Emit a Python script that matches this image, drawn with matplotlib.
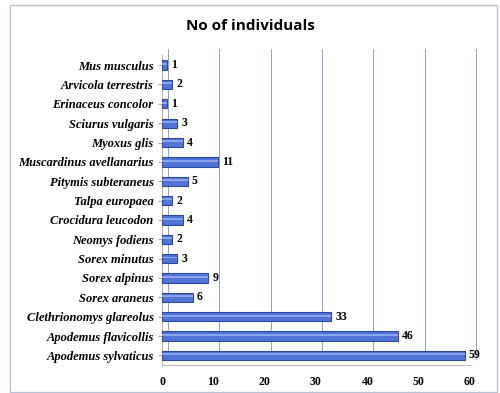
import matplotlib
matplotlib.use('Agg')
import matplotlib.pyplot as plt
import matplotlib.transforms as mtransforms
from matplotlib.patches import Rectangle

species = ['Mus musculus', 'Arvicola terrestris', 'Erinaceus concolor',
           'Sciurus vulgaris', 'Myoxus glis', 'Muscardinus avellanarius',
           'Pitymis subteraneus', 'Talpa europaea', 'Crocidura leucodon',
           'Neomys fodiens', 'Sorex minutus', 'Sorex alpinus', 'Sorex araneus',
           'Clethrionomys glareolus', 'Apodemus flavicollis', 'Apodemus sylvaticus']
counts = [1, 2, 1, 3, 4, 11, 5, 2, 4, 2, 3, 9, 6, 33, 46, 59]
xticks = [0, 10, 20, 30, 40, 50, 60]

fig = plt.figure(figsize=(5, 3.93), dpi=100)
ax = fig.add_axes([0.324, 0.071, 0.616, 0.788])

# outer chart border
fig.patches.append(Rectangle((0.02, 0.003), 0.974, 0.984, transform=fig.transFigure,
                             fill=False, edgecolor='#b8c4d4', linewidth=1.0))

pos = list(range(len(species)))[::-1]

# back-wall gridlines, shifted like the 3D chart
shift = mtransforms.ScaledTranslation(0.06, 0.06, fig.dpi_scale_trans)
for t in xticks:
    ax.plot([t, t], [-0.5, 15.5], color='#8aa4cc', linewidth=0.7,
            transform=ax.transData + shift, clip_on=False, zorder=0)

ax.barh(pos, counts, height=0.48, color='#5274d6', edgecolor='#2c4a9e',
        linewidth=0.8, zorder=3)
# highlight stripe to mimic the cylinder shading
ax.barh([p + 0.06 for p in pos], counts, height=0.1, color='#8aa3ea',
        linewidth=0, zorder=4)

for p, c in zip(pos, counts):
    ax.text(c + 0.8, p, str(c), va='center', ha='left', fontsize=8.5,
            fontweight='bold', family='Liberation Serif', zorder=5)

ax.set_xlim(0, 60)
ax.set_ylim(-0.5, 15.5)
ax.set_xticks(xticks)
ax.set_yticks(pos)
ax.set_yticklabels(species, fontsize=9, fontweight='bold', fontstyle='italic',
                   family='Liberation Serif')
ax.set_xticklabels([str(t) for t in xticks], fontsize=8.5, fontweight='bold',
                   family='Liberation Serif')
ax.tick_params(axis='y', length=3, color='#b0b0b0', pad=3)
ax.tick_params(axis='x', length=0, pad=8)

for s in ['top', 'right']:
    ax.spines[s].set_visible(False)
for s in ['left', 'bottom']:
    ax.spines[s].set_color('#b8b8b8')
    ax.spines[s].set_linewidth(0.8)
ax.patch.set_alpha(0)

fig.text(0.5, 0.935, 'No of individuals', ha='center', va='center',
         fontsize=11, fontweight='bold', family='Open Sans')

fig.savefig('out.png', dpi=100)
